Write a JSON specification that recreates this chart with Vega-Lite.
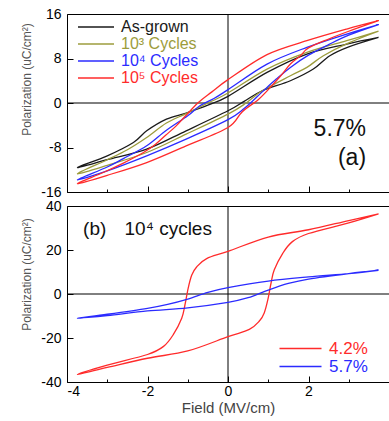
{
"$schema":"https://vega.github.io/schema/vega-lite/v6.json",
"autosize":{"type":"pad"},
"padding":{"left":20,"top":6,"right":0,"bottom":4},
"bounds":"flush",
"spacing":14,
"config":{
 "font":"Liberation Sans",
 "view":{"stroke":"#000","strokeWidth":1},
 "axis":{"grid":false,"domain":false,"tickColor":"#000","tickWidth":1,"labelColor":"#000","labelFontSize":14,"titleColor":"#555","titleFontWeight":"normal","titleFontSize":12},
 "legend":{"title":null,"symbolType":"M-3,0H3","padding":0}
},
"datasets":{
 "top":[
  {"s":"As-grown","i":0,"x":3.74,"y":11.8},{"s":"As-grown","i":1,"x":2.95,"y":10.6},{"s":"As-grown","i":2,"x":1.96,"y":8.8},{"s":"As-grown","i":3,"x":0.97,"y":5.5},{"s":"As-grown","i":4,"x":0,"y":1.2},{"s":"As-grown","i":5,"x":-0.5,"y":-0.4},{"s":"As-grown","i":6,"x":-1.04,"y":-1.8},{"s":"As-grown","i":7,"x":-1.53,"y":-2.9},{"s":"As-grown","i":8,"x":-2.02,"y":-5.0},{"s":"As-grown","i":9,"x":-2.35,"y":-7.1},{"s":"As-grown","i":10,"x":-3.0,"y":-9.5},{"s":"As-grown","i":11,"x":-3.74,"y":-11.6},
  {"s":"As-grown","i":12,"x":-3.0,"y":-10.2},{"s":"As-grown","i":13,"x":-2.02,"y":-8.3},{"s":"As-grown","i":14,"x":-1.04,"y":-5.0},{"s":"As-grown","i":15,"x":0,"y":-1.4},{"s":"As-grown","i":16,"x":0.4,"y":0.3},{"s":"As-grown","i":17,"x":0.85,"y":2.2},{"s":"As-grown","i":18,"x":1.55,"y":4.0},{"s":"As-grown","i":19,"x":2.12,"y":6.1},{"s":"As-grown","i":20,"x":2.53,"y":8.5},{"s":"As-grown","i":21,"x":3.0,"y":10.1},{"s":"As-grown","i":22,"x":3.74,"y":11.8},
  {"s":"10³ Cycles","i":0,"x":3.74,"y":12.9},{"s":"10³ Cycles","i":1,"x":2.95,"y":11.2},{"s":"10³ Cycles","i":2,"x":1.96,"y":9.1},{"s":"10³ Cycles","i":3,"x":0.97,"y":6.1},{"s":"10³ Cycles","i":4,"x":0,"y":1.8},{"s":"10³ Cycles","i":5,"x":-0.5,"y":0},{"s":"10³ Cycles","i":6,"x":-1.04,"y":-1.9},{"s":"10³ Cycles","i":7,"x":-1.53,"y":-3.6},{"s":"10³ Cycles","i":8,"x":-2.02,"y":-6.2},{"s":"10³ Cycles","i":9,"x":-2.5,"y":-8.4},{"s":"10³ Cycles","i":10,"x":-3.0,"y":-10.2},{"s":"10³ Cycles","i":11,"x":-3.74,"y":-12.7},
  {"s":"10³ Cycles","i":12,"x":-3.0,"y":-11.2},{"s":"10³ Cycles","i":13,"x":-2.02,"y":-8.9},{"s":"10³ Cycles","i":14,"x":-1.04,"y":-5.6},{"s":"10³ Cycles","i":15,"x":0,"y":-2.0},{"s":"10³ Cycles","i":16,"x":0.45,"y":0},{"s":"10³ Cycles","i":17,"x":0.85,"y":2.2},{"s":"10³ Cycles","i":18,"x":1.55,"y":4.9},{"s":"10³ Cycles","i":19,"x":1.96,"y":6.4},{"s":"10³ Cycles","i":20,"x":2.37,"y":8.5},{"s":"10³ Cycles","i":21,"x":3.0,"y":10.8},{"s":"10³ Cycles","i":22,"x":3.74,"y":12.9},
  {"s":"10⁴ Cycles","i":0,"x":3.74,"y":14.1},{"s":"10⁴ Cycles","i":1,"x":2.95,"y":12.4},{"s":"10⁴ Cycles","i":2,"x":1.96,"y":10.0},{"s":"10⁴ Cycles","i":3,"x":0.97,"y":7.0},{"s":"10⁴ Cycles","i":4,"x":0,"y":2.4},{"s":"10⁴ Cycles","i":5,"x":-0.35,"y":0.8},{"s":"10⁴ Cycles","i":6,"x":-0.7,"y":-0.5},{"s":"10⁴ Cycles","i":7,"x":-1.0,"y":-2.3},{"s":"10⁴ Cycles","i":8,"x":-1.53,"y":-4.9},{"s":"10⁴ Cycles","i":9,"x":-2.02,"y":-7.7},{"s":"10⁴ Cycles","i":10,"x":-2.6,"y":-10.0},{"s":"10⁴ Cycles","i":11,"x":-3.0,"y":-11.5},{"s":"10⁴ Cycles","i":12,"x":-3.74,"y":-13.8},
  {"s":"10⁴ Cycles","i":13,"x":-3.0,"y":-12.2},{"s":"10⁴ Cycles","i":14,"x":-2.02,"y":-9.5},{"s":"10⁴ Cycles","i":15,"x":-1.04,"y":-6.5},{"s":"10⁴ Cycles","i":16,"x":0,"y":-3.0},{"s":"10⁴ Cycles","i":17,"x":0.4,"y":-1.0},{"s":"10⁴ Cycles","i":18,"x":0.85,"y":2.0},{"s":"10⁴ Cycles","i":19,"x":1.2,"y":4.3},{"s":"10⁴ Cycles","i":20,"x":1.55,"y":6.4},{"s":"10⁴ Cycles","i":21,"x":2.0,"y":8.6},{"s":"10⁴ Cycles","i":22,"x":2.5,"y":10.5},{"s":"10⁴ Cycles","i":23,"x":3.0,"y":12.2},{"s":"10⁴ Cycles","i":24,"x":3.74,"y":14.1},
  {"s":"10⁵ Cycles","i":0,"x":3.74,"y":14.8},{"s":"10⁵ Cycles","i":1,"x":2.95,"y":13.3},{"s":"10⁵ Cycles","i":2,"x":1.96,"y":11.2},{"s":"10⁵ Cycles","i":3,"x":0.97,"y":8.7},{"s":"10⁵ Cycles","i":4,"x":0,"y":4.2},{"s":"10⁵ Cycles","i":5,"x":-0.4,"y":2.0},{"s":"10⁵ Cycles","i":6,"x":-0.75,"y":0},{"s":"10⁵ Cycles","i":7,"x":-1.04,"y":-2.2},{"s":"10⁵ Cycles","i":8,"x":-1.3,"y":-4.2},{"s":"10⁵ Cycles","i":9,"x":-1.55,"y":-5.8},{"s":"10⁵ Cycles","i":10,"x":-1.8,"y":-7.4},{"s":"10⁵ Cycles","i":11,"x":-2.1,"y":-8.9},{"s":"10⁵ Cycles","i":12,"x":-2.6,"y":-10.8},{"s":"10⁵ Cycles","i":13,"x":-3.1,"y":-12.5},{"s":"10⁵ Cycles","i":14,"x":-3.74,"y":-14.5},
  {"s":"10⁵ Cycles","i":15,"x":-3.0,"y":-13.0},{"s":"10⁵ Cycles","i":16,"x":-2.02,"y":-10.7},{"s":"10⁵ Cycles","i":17,"x":-1.04,"y":-7.7},{"s":"10⁵ Cycles","i":18,"x":0,"y":-4.4},{"s":"10⁵ Cycles","i":19,"x":0.35,"y":-1.6},{"s":"10⁵ Cycles","i":20,"x":0.75,"y":0.6},{"s":"10⁵ Cycles","i":21,"x":1.0,"y":2.4},{"s":"10⁵ Cycles","i":22,"x":1.3,"y":4.8},{"s":"10⁵ Cycles","i":23,"x":1.55,"y":7.0},{"s":"10⁵ Cycles","i":24,"x":1.8,"y":8.5},{"s":"10⁵ Cycles","i":25,"x":2.0,"y":9.9},{"s":"10⁵ Cycles","i":26,"x":2.5,"y":11.5},{"s":"10⁵ Cycles","i":27,"x":3.0,"y":12.9},{"s":"10⁵ Cycles","i":28,"x":3.74,"y":14.8}
 ],
 "bottom":[
  {"s":"4.2%","i":0,"x":3.74,"y":36.4},{"s":"4.2%","i":1,"x":3.0,"y":33.4},{"s":"4.2%","i":2,"x":2.0,"y":29.2},{"s":"4.2%","i":3,"x":1.0,"y":25.9},{"s":"4.2%","i":4,"x":0,"y":19.4},{"s":"4.2%","i":5,"x":-0.53,"y":16.1},{"s":"4.2%","i":6,"x":-0.78,"y":12.3},{"s":"4.2%","i":7,"x":-0.9,"y":8.6},{"s":"4.2%","i":8,"x":-0.99,"y":2.6},{"s":"4.2%","i":9,"x":-1.07,"y":-5},{"s":"4.2%","i":10,"x":-1.15,"y":-11},{"s":"4.2%","i":11,"x":-1.36,"y":-18.5},{"s":"4.2%","i":12,"x":-1.6,"y":-23.8},{"s":"4.2%","i":13,"x":-2.0,"y":-27.5},{"s":"4.2%","i":14,"x":-3.0,"y":-32.3},{"s":"4.2%","i":15,"x":-3.74,"y":-36.5},
  {"s":"4.2%","i":16,"x":-3.0,"y":-33.4},{"s":"4.2%","i":17,"x":-2.0,"y":-29.2},{"s":"4.2%","i":18,"x":-1.0,"y":-25.9},{"s":"4.2%","i":19,"x":0,"y":-19.4},{"s":"4.2%","i":20,"x":0.53,"y":-16.1},{"s":"4.2%","i":21,"x":0.78,"y":-12.3},{"s":"4.2%","i":22,"x":0.9,"y":-8.6},{"s":"4.2%","i":23,"x":0.99,"y":-2.6},{"s":"4.2%","i":24,"x":1.07,"y":5},{"s":"4.2%","i":25,"x":1.15,"y":11},{"s":"4.2%","i":26,"x":1.36,"y":18.5},{"s":"4.2%","i":27,"x":1.6,"y":23.8},{"s":"4.2%","i":28,"x":2.0,"y":27.5},{"s":"4.2%","i":29,"x":3.0,"y":32.3},{"s":"4.2%","i":30,"x":3.74,"y":36.4},
  {"s":"5.7%","i":0,"x":3.74,"y":10.8},{"s":"5.7%","i":1,"x":3.0,"y":9.3},{"s":"5.7%","i":2,"x":2.0,"y":7.8},{"s":"5.7%","i":3,"x":1.0,"y":5.9},{"s":"5.7%","i":4,"x":0,"y":2.9},{"s":"5.7%","i":5,"x":-0.5,"y":0.75},{"s":"5.7%","i":6,"x":-1.0,"y":-2.3},{"s":"5.7%","i":7,"x":-1.5,"y":-4.7},{"s":"5.7%","i":8,"x":-2.0,"y":-6.5},{"s":"5.7%","i":9,"x":-3.0,"y":-9.2},{"s":"5.7%","i":10,"x":-3.74,"y":-11},
  {"s":"5.7%","i":11,"x":-3.0,"y":-9.8},{"s":"5.7%","i":12,"x":-2.0,"y":-7.7},{"s":"5.7%","i":13,"x":-1.0,"y":-6.3},{"s":"5.7%","i":14,"x":0,"y":-3.8},{"s":"5.7%","i":15,"x":0.5,"y":-1.7},{"s":"5.7%","i":16,"x":1.0,"y":1.8},{"s":"5.7%","i":17,"x":1.5,"y":4.8},{"s":"5.7%","i":18,"x":2.0,"y":6.8},{"s":"5.7%","i":19,"x":3.0,"y":9.3},{"s":"5.7%","i":20,"x":3.74,"y":10.8}
 ]
},
"vconcat":[
 {
  "width":322,"height":178,
  "layer":[
   {"data":{"values":[{"x":0}]},"mark":{"type":"rule","color":"#000","strokeWidth":1},"encoding":{"x":{"field":"x","type":"quantitative"}}},
   {"data":{"values":[{"y":0}]},"mark":{"type":"rule","color":"#000","strokeWidth":1},"encoding":{"y":{"field":"y","type":"quantitative"}}},
   {"data":{"name":"top"},"mark":{"type":"line","interpolate":"cardinal","strokeWidth":1.3},
    "encoding":{
     "x":{"field":"x","type":"quantitative","scale":{"domain":[-4,4],"nice":false,"zero":false},
          "axis":{"values":[-4,-3,-2,-1,0,1,2,3,4],"labels":false,"title":null,"tickSize":{"condition":{"test":"datum.value % 2 === 0","value":-6},"value":-3}}},
     "y":{"field":"y","type":"quantitative","scale":{"domain":[-16,16],"nice":false,"zero":false},
          "axis":{"values":[-16,-12,-8,-4,0,4,8,12,16],"labelExpr":"datum.value % 8 === 0 ? replace(datum.label, '−', '-') : ''","title":"Polarization (uC/cm²)","titleY":65,"tickSize":{"condition":{"test":"datum.value % 8 === 0","value":-6},"value":-3},"labelPadding":12,"titlePadding":7}},
     "color":{"field":"s","type":"nominal","scale":{"domain":["As-grown","10³ Cycles","10⁴ Cycles","10⁵ Cycles"],"range":["#1a1a1a","#9c9c3c","#2b2bff","#ff2b2b"]},
          "legend":{"orient":"none","legendX":21,"legendY":5,"symbolSize":144,"symbolStrokeWidth":1.5,"labelFontSize":16,"labelOffset":17,"rowPadding":1,
                    "encode":{"labels":{"update":{"fill":{"signal":"datum.value === 'As-grown' ? '#1a1a1a' : datum.value === '10³ Cycles' ? '#9c9c3c' : datum.value === '10⁴ Cycles' ? '#2b2bff' : '#ff2b2b'"}}}}}},
     "order":{"field":"i","type":"quantitative"}
    }},
   {"data":{"values":[{"x":3.43,"y":-4.7,"t":"5.7%"},{"x":3.43,"y":-9.9,"t":"(a)"}]},"mark":{"type":"text","align":"right","baseline":"middle","fontSize":23,"color":"#111"},
    "encoding":{"x":{"field":"x","type":"quantitative"},"y":{"field":"y","type":"quantitative"},"text":{"field":"t"}}}
  ]
 },
 {
  "width":322,"height":176,
  "layer":[
   {"data":{"values":[{"x":0}]},"mark":{"type":"rule","color":"#000","strokeWidth":1},"encoding":{"x":{"field":"x","type":"quantitative"}}},
   {"data":{"values":[{"y":0}]},"mark":{"type":"rule","color":"#000","strokeWidth":1},"encoding":{"y":{"field":"y","type":"quantitative"}}},
   {"data":{"name":"bottom"},"mark":{"type":"line","interpolate":"cardinal","strokeWidth":1.3},
    "encoding":{
     "x":{"field":"x","type":"quantitative","scale":{"domain":[-4,4],"nice":false,"zero":false},
          "axis":{"values":[-4,-3,-2,-1,0,1,2,3,4],"labelExpr":"datum.value % 2 === 0 && datum.value < 4 ? replace(datum.label, '−', '-') : ''","title":"Field (MV/cm)","titleFontSize":15,"titleColor":"#444","labelPadding":8,"titlePadding":2,"tickSize":{"condition":{"test":"datum.value % 2 === 0","value":-6},"value":-3}}},
     "y":{"field":"y","type":"quantitative","scale":{"domain":[-40,40],"nice":false,"zero":false},
          "axis":{"values":[-40,-30,-20,-10,0,10,20,30,40],"labelExpr":"datum.value % 20 === 0 ? replace(datum.label, '−', '-') : ''","title":"Polarization (uC/cm²)","titleY":68,"tickSize":{"condition":{"test":"datum.value % 20 === 0","value":-6},"value":-3},"labelPadding":12,"titlePadding":7}},
     "color":{"field":"s","type":"nominal","scale":{"domain":["4.2%","5.7%"],"range":["#ff2b2b","#2b2bff"]},
          "legend":{"orient":"none","legendX":225,"legendY":134,"symbolSize":196,"symbolStrokeWidth":1.5,"labelFontSize":17,"labelOffset":20,"rowPadding":0,
                    "encode":{"labels":{"update":{"fill":{"signal":"datum.value === '4.2%' ? '#ff2b2b' : '#2b2bff'"}}}}}},
     "order":{"field":"i","type":"quantitative"}
    }},
   {"data":{"values":[{"x":-3.6,"y":29.4,"t":"(b)"},{"x":-2.57,"y":29.4,"t":"10⁴ cycles"}]},"mark":{"type":"text","align":"left","baseline":"middle","fontSize":19,"color":"#111"},
    "encoding":{"x":{"field":"x","type":"quantitative"},"y":{"field":"y","type":"quantitative"},"text":{"field":"t"}}}
  ]
 }
],
"resolve":{"scale":{"x":"independent","y":"independent","color":"independent"},"legend":{"color":"independent"}}
}
